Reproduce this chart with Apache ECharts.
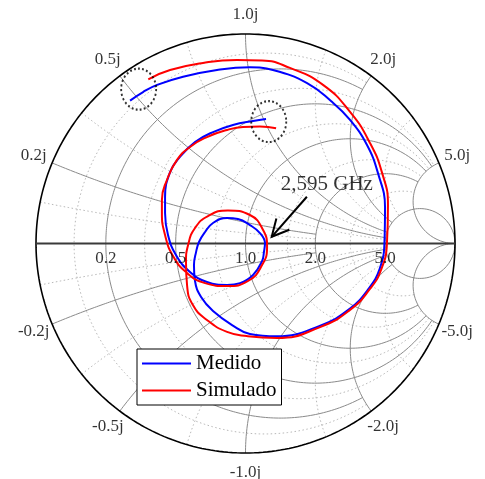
<!DOCTYPE html>
<html><head><meta charset="utf-8">
<script src="https://cdn.jsdelivr.net/npm/echarts@6.0.0/dist/echarts.min.js"></script>
<style>html,body{margin:0;padding:0;background:#fff}#c{width:485px;height:479px}</style>
</head><body><div id="c"></div>
<script>
// ---- chart data (reflection coefficient, real / imaginary parts) ----
const medidoRe = [-0.551,-0.489,-0.422,-0.298,-0.136,0.021,0.131,0.294,0.408,0.499,0.580,0.632,0.666,0.663,0.640,0.590,0.497,0.354,0.150,0.021,-0.060,-0.155,-0.212,-0.241,-0.246,-0.236,-0.222,-0.193,-0.155,-0.088,-0.036,0.021,0.069,0.093,0.088,0.079,0.036,-0.026,-0.088,-0.184,-0.265,-0.332,-0.370,-0.384,-0.384,-0.360,-0.313,-0.241,-0.155,-0.060,0.036,0.098];
const medidoIm = [0.682,0.723,0.757,0.796,0.828,0.841,0.828,0.766,0.680,0.590,0.470,0.337,0.174,-0.002,-0.122,-0.213,-0.312,-0.393,-0.443,-0.432,-0.392,-0.322,-0.255,-0.179,-0.103,-0.041,0.007,0.055,0.098,0.122,0.117,0.088,0.050,0.002,-0.041,-0.084,-0.150,-0.189,-0.198,-0.184,-0.136,-0.055,0.041,0.146,0.222,0.341,0.413,0.484,0.532,0.566,0.585,0.594];
const simuladoRe = [-0.464,-0.360,-0.203,-0.041,0.079,0.212,0.370,0.499,0.594,0.652,0.680,0.675,0.647,0.594,0.499,0.356,0.150,0.007,-0.088,-0.184,-0.251,-0.279,-0.284,-0.274,-0.241,-0.179,-0.084,0.021,0.084,0.103,0.079,0.012,-0.088,-0.193,-0.279,-0.346,-0.384,-0.399,-0.399,-0.375,-0.327,-0.265,-0.184,-0.088,-0.012,0.069,0.146];
const simuladoIm = [0.784,0.828,0.862,0.876,0.874,0.838,0.757,0.628,0.480,0.337,0.184,-0.002,-0.126,-0.217,-0.317,-0.399,-0.451,-0.442,-0.422,-0.365,-0.294,-0.198,-0.088,-0.007,0.074,0.131,0.158,0.136,0.064,-0.017,-0.103,-0.179,-0.203,-0.189,-0.141,-0.060,0.041,0.146,0.208,0.303,0.399,0.461,0.508,0.542,0.556,0.558,0.550];

// Smith grid values and their clipping limits
const majorVals = [0.2, 0.5, 1, 2, 5];
const majorLims = [2, 5, 5, 5, Infinity];
const minorVals = [0.1, 0.35, 0.75, 1.5, 3];
const minorLims = [2, 5, 5, 5, 5];

// tick labels
const resLabelVals = [0.2, 0.5, 1, 2, 5];
const resLabels = ['0.2', '0.5', '1.0', '2.0', '5.0'];
const reactLabelVals = [0.2, 0.5, 1, 2, 5, -0.2, -0.5, -1, -2, -5];
const reactLabels = ['0.2j', '0.5j', '1.0j', '2.0j', '5.0j', '-0.2j', '-0.5j', '-1.0j', '-2.0j', '-5.0j'];

// annotations (reflection-coefficient positions)
const markRe = [-0.510, 0.111];
const markIm = [0.737, 0.582];
const arrowTail = [0.293, 0.223];
const arrowTip = [0.125, 0.032];
const annotText = ['2,595 GHz'];
const annotPos = [0.388, 0.281];

// ---- helpers ----
function gamma(r, x) {
  const ar = r - 1, br = r + 1, d = br * br + x * x;
  return [(ar * br + x * x) / d, (x * br - ar * x) / d];
}
function rCircle(r, L) {
  const t1 = isFinite(L) ? Math.atan(L) : Math.PI / 2, N = 300, pts = [];
  for (let i = 0; i <= N; i++) {
    const t = -t1 + 2 * t1 * i / N;
    if (Math.abs(Math.abs(t) - Math.PI / 2) < 1e-9) { pts.push([1, 0]); continue; }
    pts.push(gamma(r, Math.tan(t)));
  }
  return pts;
}
function xArc(x, L) {
  const t1 = isFinite(L) ? Math.atan(L) : Math.PI / 2, N = 300, pts = [];
  for (let i = 0; i <= N; i++) {
    const t = t1 * i / N;
    if (Math.abs(t - Math.PI / 2) < 1e-9) { pts.push([1, 0]); continue; }
    pts.push(gamma(Math.tan(t), x));
  }
  return pts;
}
function gridLine(pts, style, z) {
  return { type: 'line', data: pts, symbol: 'none', showSymbol: false, silent: true, clip: false,
    animation: false, lineStyle: style, z: z || 1 };
}

const serif = 'Liberation Serif';
const series = [];
const minorStyle = { color: '#b8b8b8', width: 1, type: [1.5, 2.5] };
const majorStyle = { color: '#8a8a8a', width: 1 };
minorVals.forEach((v, i) => {
  series.push(gridLine(rCircle(v, minorLims[i]), minorStyle, 1));
  series.push(gridLine(xArc(v, minorLims[i]), minorStyle, 1));
  series.push(gridLine(xArc(-v, minorLims[i]), minorStyle, 1));
});
majorVals.forEach((v, i) => {
  series.push(gridLine(rCircle(v, majorLims[i]), majorStyle, 2));
  series.push(gridLine(xArc(v, majorLims[i]), majorStyle, 2));
  series.push(gridLine(xArc(-v, majorLims[i]), majorStyle, 2));
});
series.push(gridLine(rCircle(0, Infinity), { color: '#000', width: 1.6 }, 3));
series.push(gridLine([[-1, 0], [1, 0]], { color: '#3a3a3a', width: 2 }, 3));

// data curves
series.push({ name: 'Medido', type: 'line', data: medidoRe.map((v, i) => [v, medidoIm[i]]),
  symbol: 'none', showSymbol: false, smooth: 0.45, clip: false, animation: false,
  lineStyle: { color: '#0000ff', width: 2 }, itemStyle: { color: '#0000ff' }, z: 5 });
series.push({ name: 'Simulado', type: 'line', data: simuladoRe.map((v, i) => [v, simuladoIm[i]]),
  symbol: 'none', showSymbol: false, smooth: 0.5, clip: false, animation: false,
  lineStyle: { color: '#ff0000', width: 2 }, itemStyle: { color: '#ff0000' }, z: 6 });

// tick labels
const lblStyle = { show: true, position: 'inside', fontFamily: serif, fontSize: 17, color: '#000', formatter: '{b}' };
series.push({ type: 'scatter', silent: true, clip: false, animation: false, symbolSize: 1,
  itemStyle: { color: 'rgba(0,0,0,0)' },
  data: resLabelVals.map((v, i) => ({ name: resLabels[i], value: [gamma(v, 0)[0], 0] })),
  label: Object.assign({}, lblStyle, { offset: [0, 15] }), z: 7 });
series.push({ type: 'scatter', silent: true, clip: false, animation: false, symbolSize: 1,
  itemStyle: { color: 'rgba(0,0,0,0)' },
  data: reactLabelVals.map((v, i) => { const g = gamma(0, v); return { name: reactLabels[i], value: [g[0] * 1.095, g[1] * 1.095] }; }),
  label: lblStyle, z: 7 });

// dotted marker ellipses
series.push({ type: 'scatter', silent: true, clip: false, animation: false, symbol: 'circle', symbolSize: [35, 41],
  data: markRe.map((v, i) => [v, markIm[i]]),
  itemStyle: { color: 'rgba(0,0,0,0)', borderColor: '#000', borderWidth: 2, borderType: [2, 2.4] }, z: 8 });

// annotation text
series.push({ type: 'scatter', silent: true, clip: false, animation: false, symbolSize: 1,
  itemStyle: { color: 'rgba(0,0,0,0)' },
  data: [{ name: annotText[0], value: annotPos }],
  label: { show: true, position: 'inside', formatter: '{b}', fontFamily: serif, fontSize: 21, color: '#000' }, z: 8 });

// arrow
series.push({ type: 'custom', silent: true, clip: false, animation: false, z: 8,
  data: [[arrowTail[0], arrowTail[1], arrowTip[0], arrowTip[1]]],
  encode: { x: [0, 2], y: [1, 3] },
  renderItem: function (params, api) {
    const p0 = api.coord([api.value(0), api.value(1)]);
    const p1 = api.coord([api.value(2), api.value(3)]);
    const ang = Math.atan2(p0[1] - p1[1], p0[0] - p1[0]);
    const len = 19, spread = 27 * Math.PI / 180;
    const h1 = [p1[0] + len * Math.cos(ang - spread), p1[1] + len * Math.sin(ang - spread)];
    const h2 = [p1[0] + len * Math.cos(ang + spread), p1[1] + len * Math.sin(ang + spread)];
    return { type: 'group', children: [
      { type: 'line', shape: { x1: p0[0], y1: p0[1], x2: p1[0], y2: p1[1] }, style: { stroke: '#000', lineWidth: 2 } },
      { type: 'polyline', shape: { points: [h1, p1, h2] }, style: { stroke: '#000', lineWidth: 2, fill: null } }
    ] };
  } });

const chart = echarts.init(document.getElementById('c'), null, { renderer: 'canvas' });
chart.setOption({
  animation: false,
  backgroundColor: '#fff',
  grid: { left: 36, top: 34, width: 419, height: 419, containLabel: false },
  xAxis: { type: 'value', min: -1, max: 1, show: false },
  yAxis: { type: 'value', min: -1, max: 1, show: false },
  legend: {
    data: ['Medido', 'Simulado'], orient: 'vertical', left: 137, top: 349,
    backgroundColor: '#fff', borderColor: '#000', borderWidth: 1, borderRadius: 0,
    padding: [4, 5, 4, 5], itemGap: 6, itemWidth: 49, itemHeight: 2, icon: 'rect',
    selectedMode: false,
    textStyle: { fontFamily: serif, fontSize: 21, color: '#000' }
  },
  series: series
});
</script></body></html>
